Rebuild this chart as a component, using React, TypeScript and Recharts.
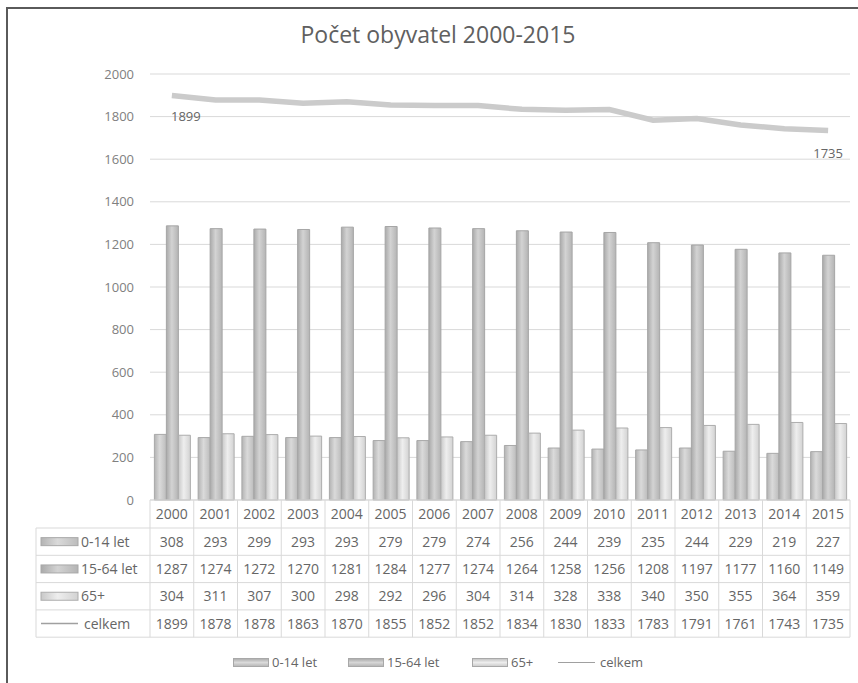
import React from 'react';
import { ComposedChart, Bar, Line, XAxis, YAxis, CartesianGrid } from 'recharts';

const YEARS = ['2000','2001','2002','2003','2004','2005','2006','2007','2008','2009','2010','2011','2012','2013','2014','2015'];
const AGE_0_14 = [308,293,299,293,293,279,279,274,256,244,239,235,244,229,219,227];
const AGE_15_64 = [1287,1274,1272,1270,1281,1284,1277,1274,1264,1258,1256,1208,1197,1177,1160,1149];
const AGE_65 = [304,311,307,300,298,292,296,304,314,328,338,340,350,355,364,359];
const TOTAL = [1899,1878,1878,1863,1870,1855,1852,1852,1834,1830,1833,1783,1791,1761,1743,1735];
const Y_TICKS = [0,200,400,600,800,1000,1200,1400,1600,1800,2000];
const SERIES_NAMES = ['0-14 let', '15-64 let', '65+', 'celkem'];

const data = YEARS.map((y, i) => ({
  year: y,
  a: AGE_0_14[i],
  b: AGE_15_64[i],
  c: AGE_65[i],
  total: TOTAL[i],
}));

const W = 858;
const H = 683;
const PLOT_LEFT = 150;
const PLOT_RIGHT = 850;
const PLOT_TOP = 74;
const PLOT_BOTTOM = 500;
const BAND = (PLOT_RIGHT - PLOT_LEFT) / YEARS.length;
const TABLE_LEFT = 36;
const YEAR_ROW_BOTTOM = 528;
const ROW_H = 27.3;
const TEXT = '#666666';
const GRID = '#d9d9d9';
const FONT = '"Open Sans", sans-serif';

const rows = [
  { name: SERIES_NAMES[0], values: AGE_0_14, kind: 'bar', fill: 'url(#gA)', stroke: '#a8a8a8' },
  { name: SERIES_NAMES[1], values: AGE_15_64, kind: 'bar', fill: 'url(#gB)', stroke: '#a8a8a8' },
  { name: SERIES_NAMES[2], values: AGE_65, kind: 'bar', fill: 'url(#gC)', stroke: '#adadad' },
  { name: SERIES_NAMES[3], values: TOTAL, kind: 'line', fill: 'none', stroke: '#bdbdbd' },
];

const TableTick = (props: any) => {
  const { x, payload } = props;
  const i = payload.index;
  const right = x + BAND / 2;
  const tableBottom = YEAR_ROW_BOTTOM + ROW_H * rows.length;
  return (
    <g>
      {i === 0 && (
        <g>
          <line x1={PLOT_LEFT} x2={PLOT_LEFT} y1={PLOT_BOTTOM} y2={tableBottom} stroke={GRID} />
          <line x1={TABLE_LEFT} x2={TABLE_LEFT} y1={YEAR_ROW_BOTTOM} y2={tableBottom} stroke={GRID} />
          {[0, 1, 2, 3, 4].map((k) => (
            <line key={k} x1={TABLE_LEFT} x2={PLOT_RIGHT} y1={YEAR_ROW_BOTTOM + k * ROW_H} y2={YEAR_ROW_BOTTOM + k * ROW_H} stroke={GRID} />
          ))}
          {rows.map((r, k) => {
            const cy = YEAR_ROW_BOTTOM + k * ROW_H + ROW_H / 2;
            return (
              <g key={r.name}>
                {r.kind === 'bar' ? (
                  <rect x={41} y={cy - 4} width={37} height={8} fill={r.fill} stroke={r.stroke} strokeWidth={1} />
                ) : (
                  <line x1={41} x2={78} y1={cy} y2={cy} stroke="#a0a0a0" strokeWidth={1.5} />
                )}
                <text x={r.kind === 'line' ? 84 : 81} y={cy + 5} fontSize={14} fill={TEXT} fontFamily={FONT}>{r.name}</text>
              </g>
            );
          })}
        </g>
      )}
      <line x1={right} x2={right} y1={PLOT_BOTTOM} y2={tableBottom} stroke={GRID} />
      <text x={x} y={519} textAnchor="middle" fontSize={14} fill={TEXT} fontFamily={FONT}>{payload.value}</text>
      {rows.map((r, k) => (
        <text key={k} x={x} y={YEAR_ROW_BOTTOM + k * ROW_H + ROW_H / 2 + 5} textAnchor="middle" fontSize={14} fill={TEXT} fontFamily={FONT}>
          {r.values[i]}
        </text>
      ))}
    </g>
  );
};

const LineLabel = (props: any) => {
  const { x, y, index, value } = props;
  if (index === 0) {
    return <text x={x + 14} y={y + 25} textAnchor="middle" fontSize={13} fill={TEXT} fontFamily={FONT}>{value}</text>;
  }
  if (index === YEARS.length - 1) {
    return <text x={x} y={y + 28} textAnchor="middle" fontSize={13} fill={TEXT} fontFamily={FONT}>{value}</text>;
  }
  return null;
};

const legendItems = [
  { name: SERIES_NAMES[0], kind: 'bar', left: 233, fill: 'linear-gradient(to bottom, #b0b0b0, #dadada, #bababa)' },
  { name: SERIES_NAMES[1], kind: 'bar', left: 348, fill: 'linear-gradient(to bottom, #adadad, #d6d6d6, #b8b8b8)' },
  { name: SERIES_NAMES[2], kind: 'bar', left: 472, fill: 'linear-gradient(to bottom, #c6c6c6, #ededed, #cfcfcf)' },
  { name: SERIES_NAMES[3], kind: 'line', left: 558, fill: '' },
];

export default function App() {
  return (
    <div style={{ position: 'absolute', left: 0, top: 0, width: W, height: H, background: '#fff', overflow: 'hidden' }}>
      <div style={{ position: 'absolute', left: 6, top: 7, width: W, height: H, borderTop: '2px solid #5a5a5a', borderLeft: '2px solid #5a5a5a' }} />
      <div style={{ position: 'absolute', left: 0, top: 18, width: 876, textAlign: 'center', fontFamily: FONT, fontSize: 23, color: '#606060' }}>
        Počet obyvatel 2000-2015
      </div>
      <ComposedChart
        width={W}
        height={H}
        data={data}
        margin={{ top: PLOT_TOP, right: W - PLOT_RIGHT, bottom: H - PLOT_BOTTOM - 137, left: 0 }}
        barCategoryGap="10%"
        barGap={0}
        style={{ position: 'absolute', left: 0, top: 0 }}
      >
        <defs>
          <linearGradient id="gA" x1="0" y1="0" x2="1" y2="0">
            <stop offset="0%" stopColor="#b3b3b3" />
            <stop offset="45%" stopColor="#dadada" />
            <stop offset="100%" stopColor="#bcbcbc" />
          </linearGradient>
          <linearGradient id="gB" x1="0" y1="0" x2="1" y2="0">
            <stop offset="0%" stopColor="#aaaaaa" />
            <stop offset="45%" stopColor="#d3d3d3" />
            <stop offset="100%" stopColor="#b4b4b4" />
          </linearGradient>
          <linearGradient id="gC" x1="0" y1="0" x2="1" y2="0">
            <stop offset="0%" stopColor="#c8c8c8" />
            <stop offset="45%" stopColor="#eeeeee" />
            <stop offset="100%" stopColor="#d2d2d2" />
          </linearGradient>
        </defs>
        <CartesianGrid vertical={false} stroke={GRID} />
        <XAxis
          dataKey="year"
          height={137}
          interval={0}
          tickLine={false}
          axisLine={{ stroke: GRID }}
          tick={<TableTick />}
        />
        <YAxis
          width={PLOT_LEFT}
          domain={[0, 2000]}
          ticks={Y_TICKS}
          tickLine={false}
          axisLine={false}
          tickSize={0}
          tickMargin={16}
          tick={{ fontSize: 13, fill: '#808080', fontFamily: FONT }}
        />
        <Bar dataKey="a" fill="url(#gA)" stroke="#a8a8a8" strokeWidth={1} isAnimationActive={false} />
        <Bar dataKey="b" fill="url(#gB)" stroke="#a6a6a6" strokeWidth={1} isAnimationActive={false} />
        <Bar dataKey="c" fill="url(#gC)" stroke="#adadad" strokeWidth={1} isAnimationActive={false} />
        <Line
          dataKey="total"
          type="linear"
          stroke="#cbcbcb"
          strokeWidth={5.5}
          dot={false}
          isAnimationActive={false}
          label={<LineLabel />}
        />
      </ComposedChart>
      {legendItems.map((it) => (
        <div key={it.name} style={{ position: 'absolute', left: it.left, top: 653, display: 'flex', alignItems: 'center', fontFamily: FONT, fontSize: 13, color: TEXT, whiteSpace: 'nowrap' }}>
          {it.kind === 'bar' ? (
            <span style={{ display: 'inline-block', width: 34, height: 7, background: it.fill, border: '1px solid #a8a8a8', marginRight: 3 }} />
          ) : (
            <span style={{ display: 'inline-block', width: 37, height: 0, borderTop: '1.5px solid #a0a0a0', marginRight: 5 }} />
          )}
          <span>{it.name}</span>
        </div>
      ))}
    </div>
  );
}
